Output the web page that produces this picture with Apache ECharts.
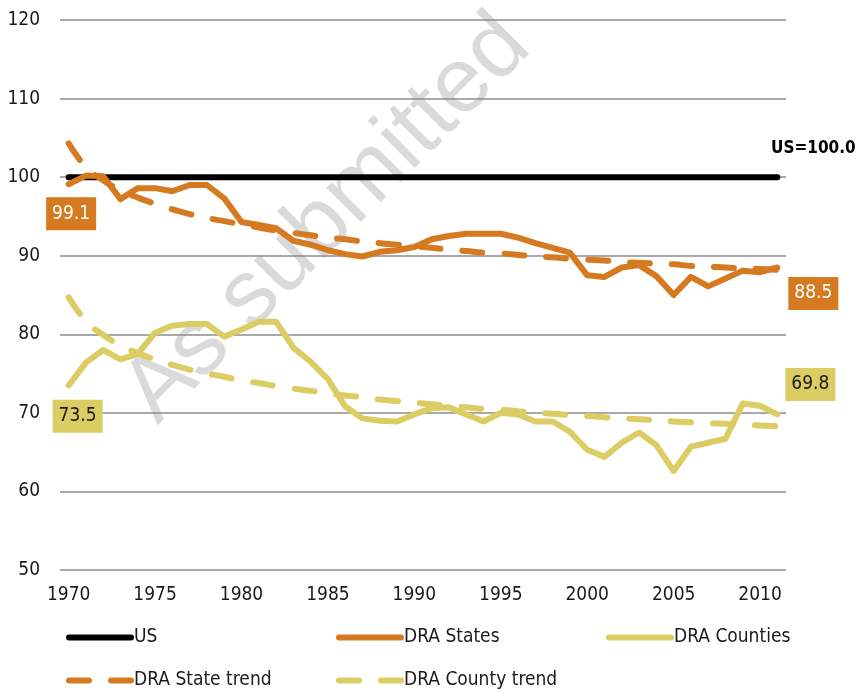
<!DOCTYPE html>
<html>
<head>
<meta charset="utf-8">
<script src="https://cdn.jsdelivr.net/npm/echarts@6/dist/echarts.min.js"></script>
<style>
  html, body { margin: 0; padding: 0; background: #fff; }
  #main { width: 856px; height: 693px; }
</style>
</head>
<body>
<div id="main"></div>
<script>
// values, index = year
var years = ['1970','1971','1972','1973','1974','1975','1976','1977','1978','1979',
  '1980','1981','1982','1983','1984','1985','1986','1987','1988','1989',
  '1990','1991','1992','1993','1994','1995','1996','1997','1998','1999',
  '2000','2001','2002','2003','2004','2005','2006','2007','2008','2009',
  '2010','2011']
var usValues = [100,100,100,100,100,100,100,100,100,100,100,100,100,100,100,100,100,100,100,100,
  100,100,100,100,100,100,100,100,100,100,100,100,100,100,100,100,100,100,100,100,100,100]
var draStates = [99.1,100.2,100.1,97.2,98.6,98.6,98.2,99.0,99.0,97.3,
  94.3,93.9,93.5,91.9,91.4,90.7,90.2,89.9,90.5,90.7,
  91.1,92.1,92.5,92.8,92.8,92.8,92.3,91.6,91.0,90.4,
  87.5,87.3,88.5,88.8,87.4,85.0,87.3,86.1,87.1,88.1,
  87.9,88.5]
var draCounties = [73.5,76.4,78.0,76.8,77.5,80.2,81.1,81.3,81.3,79.7,
  80.6,81.6,81.6,78.3,76.5,74.3,70.8,69.3,69.0,68.9,
  69.8,70.6,70.7,69.8,68.9,70.0,69.8,68.9,68.9,67.6,
  65.3,64.4,66.2,67.5,65.9,62.6,65.7,66.2,66.7,71.2,
  70.9,69.8]
var stateTrend = [104.3,101.3,99.6,98.3,97.4,96.6,95.9,95.3,94.8,94.4,
  94.0,93.6,93.2,92.9,92.6,92.3,92.1,91.8,91.6,91.4,
  91.2,91.0,90.8,90.6,90.4,90.3,90.1,89.9,89.8,89.6,
  89.5,89.4,89.2,89.1,89.0,88.9,88.7,88.6,88.5,88.4,
  88.3,88.2]
var countyTrend = [84.7,81.7,79.9,78.6,77.6,76.8,76.1,75.5,75.0,74.6,
  74.1,73.8,73.4,73.1,72.8,72.5,72.2,72.0,71.7,71.5,
  71.3,71.1,70.9,70.7,70.5,70.4,70.2,70.0,69.9,69.7,
  69.6,69.45,69.3,69.2,69.06,68.9,68.8,68.7,68.6,68.5,
  68.4,68.3]
var yTicks = [50, 60, 70, 80, 90, 100, 110, 120]

var FONT = "'DejaVu Sans Condensed', 'Liberation Sans Narrow', sans-serif"
var ORANGE = '#d57a20'
var YELLOW = '#dccc64'
var last = years.length - 1

function boxLabel(name, value, color, textColor, offset) {
  return {
    coord: [name, value],
    value: value,
    symbol: 'rect',
    symbolSize: [50, 33],
    symbolOffset: offset,
    itemStyle: { color: color },
    label: {
      show: true,
      position: 'inside',
      color: textColor,
      fontFamily: FONT,
      fontSize: 19,
      formatter: function (p) { return p.value.toFixed(1) }
    }
  }
}

var chart = echarts.init(document.getElementById('main'))
chart.setOption({
  animation: false,
  graphic: [{
    type: 'text',
    x: 172,
    y: 440,
    rotation: 45 * Math.PI / 180,
    z: -10,
    style: {
      text: 'As submitted',
      fontFamily: "'Liberation Sans', Arial, sans-serif",
      fontSize: 92,
      fill: '#dadada',
      align: 'left',
      verticalAlign: 'bottom'
    }
  }],
  grid: { left: 60, right: 70, top: 20, bottom: 123 },
  legend: [
    { data: ['US'], left: 66, top: 628 },
    { data: ['DRA States'], left: 336, top: 628 },
    { data: ['DRA Counties'], left: 606, top: 628 },
    { data: ['DRA State trend'], left: 66, top: 671 },
    { data: ['DRA County trend'], left: 336, top: 671 }
  ].map(function (l) {
    return Object.assign({
      padding: 0,
      itemWidth: 62,
      itemHeight: 14,
      itemStyle: { opacity: 0 },
      lineStyle: { width: 6 },
      textStyle: { fontFamily: FONT, fontSize: 19, color: '#1a1a1a', padding: [0, 0, 0, -2] }
    }, l)
  }),
  xAxis: {
    type: 'category',
    data: years,
    boundaryGap: true,
    axisLine: { show: false },
    axisTick: { show: false },
    axisLabel: {
      interval: function (i) { return i % 5 === 0 },
      margin: 16,
      fontFamily: FONT,
      fontSize: 19,
      color: '#1a1a1a'
    }
  },
  yAxis: {
    type: 'value',
    min: yTicks[0],
    max: yTicks[yTicks.length - 1],
    interval: 10,
    axisLine: { show: false },
    axisTick: { show: false },
    splitLine: { lineStyle: { color: '#8c8c8c', width: 1.5 } },
    axisLabel: { margin: 20, fontFamily: FONT, fontSize: 19, color: '#1a1a1a' }
  },
  series: [
    {
      name: 'US', type: 'line', data: usValues, symbol: 'none',
      lineStyle: { color: '#000', width: 6, cap: 'round' }, itemStyle: { color: '#000' },
      markPoint: {
        data: [{
          coord: [years[last], usValues[last]],
          value: usValues[last],
          symbol: 'rect',
          symbolSize: [84, 22],
          symbolOffset: [36, -29],
          itemStyle: { color: 'rgba(0,0,0,0)' },
          label: {
            show: true, position: 'inside', color: '#000',
            fontFamily: FONT, fontSize: 17, fontWeight: 'bold',
            formatter: function (p) { return 'US=' + p.value.toFixed(1) }
          }
        }]
      }
    },
    {
      name: 'DRA States', type: 'line', data: draStates, symbol: 'none',
      lineStyle: { color: ORANGE, width: 6, cap: 'round', join: 'round' }, itemStyle: { color: ORANGE },
      markPoint: {
        data: [
          boxLabel(years[0], draStates[0], ORANGE, '#fff', [2.5, 29.5]),
          boxLabel(years[last], draStates[last], ORANGE, '#fff', [36, 26])
        ]
      }
    },
    {
      name: 'DRA Counties', type: 'line', data: draCounties, symbol: 'none',
      lineStyle: { color: YELLOW, width: 6, cap: 'round', join: 'round' }, itemStyle: { color: YELLOW },
      markPoint: {
        data: [
          boxLabel(years[0], draCounties[0], YELLOW, '#1a1a1a', [9, 31]),
          boxLabel(years[last], draCounties[last], YELLOW, '#1a1a1a', [33, -30])
        ]
      }
    },
    {
      name: 'DRA State trend', type: 'line', data: stateTrend, symbol: 'none', smooth: true,
      lineStyle: { color: ORANGE, width: 6, type: [20, 22], cap: 'round' }, itemStyle: { color: ORANGE }
    },
    {
      name: 'DRA County trend', type: 'line', data: countyTrend, symbol: 'none', smooth: true,
      lineStyle: { color: YELLOW, width: 6, type: [20, 22], cap: 'round' }, itemStyle: { color: YELLOW }
    }
  ]
})
</script>
</body>
</html>
